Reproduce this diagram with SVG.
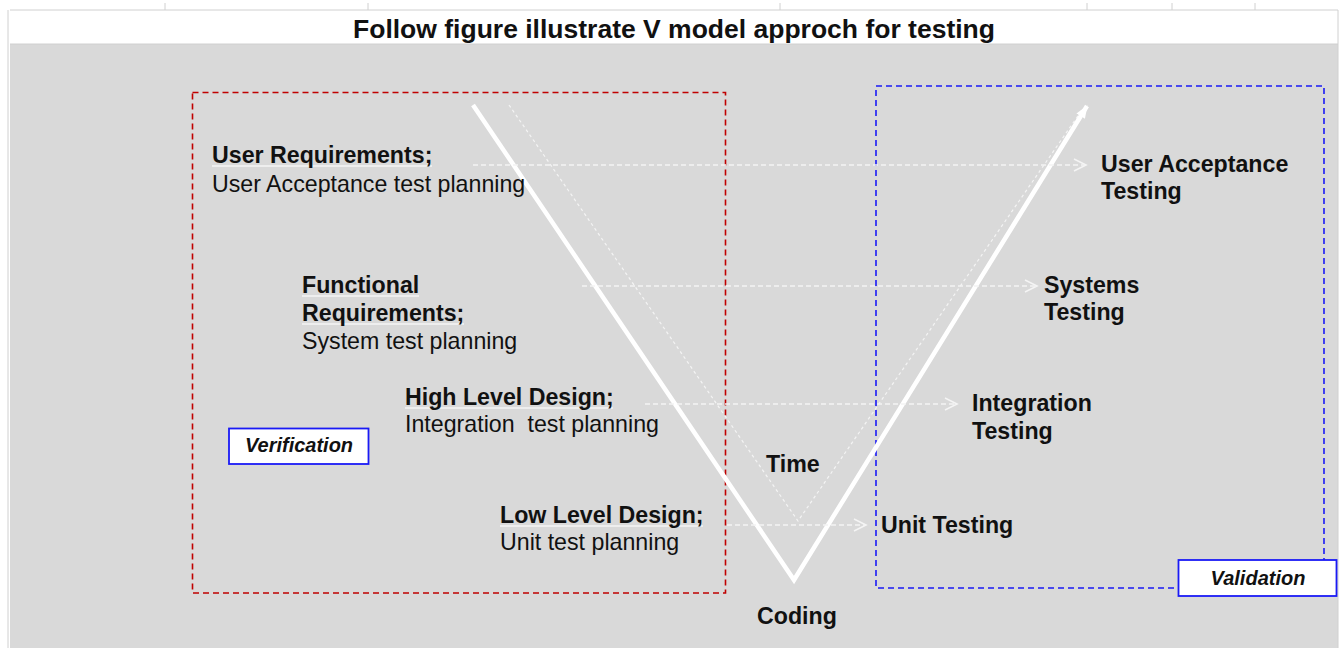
<svg xmlns="http://www.w3.org/2000/svg" width="1343" height="648" viewBox="0 0 1343 648">
<style>
  text { font-family: "Liberation Sans", Arial, sans-serif; fill: #111; }
  .b { font-weight: bold; font-size: 23.2px; }
  .r { font-size: 23.2px; }
  .tag { font-weight: bold; font-style: italic; font-size: 20px; }
  .ul { stroke: #f4f4f4; stroke-width: 1.6; }
  .conn { fill: none; stroke: #f4f4f4; stroke-width: 1.6; stroke-dasharray: 5 3; }
</style>
<defs>
  <marker id="chev" markerUnits="userSpaceOnUse" markerWidth="16" markerHeight="14" refX="13" refY="7" orient="auto">
    <path d="M1,1 L13,7 L1,13" fill="none" stroke="#f4f4f4" stroke-width="1.6"/>
  </marker>
  <marker id="solidhead" markerUnits="userSpaceOnUse" markerWidth="16" markerHeight="14" refX="12" refY="7" orient="auto">
    <path d="M0,2 L13,7 L0,12 Z" fill="#ffffff"/>
  </marker>
</defs>

<!-- canvas -->
<rect x="0" y="0" width="1343" height="648" fill="#ffffff"/>
<rect x="10" y="44" width="1328" height="604" fill="#d9d9d9"/>
<g id="grid" stroke="#d0d0d0" stroke-width="1">
  <line x1="10" y1="10" x2="1338" y2="10"/>
  <line x1="8" y1="10" x2="8" y2="648"/>
  <line x1="1338" y1="10" x2="1338" y2="648"/>
  <line x1="10" y1="44" x2="1338" y2="44"/>
  <line x1="165" y1="3" x2="165" y2="10"/>
  <line x1="368" y1="3" x2="368" y2="10"/>
  <line x1="780" y1="3" x2="780" y2="10"/>
  <line x1="1087" y1="3" x2="1087" y2="10"/>
  <line x1="1172" y1="3" x2="1172" y2="10"/>
  <line x1="1255" y1="3" x2="1255" y2="10"/>
</g>

<g id="title">
  <text x="674" y="38" text-anchor="middle" font-weight="bold" font-size="26.5">Follow figure illustrate V model approch for testing</text>
</g>

<!-- regions -->
<g id="verification-region">
  <rect x="192.5" y="92.5" width="533" height="500.5" fill="none" stroke="#c00000" stroke-width="1.6" stroke-dasharray="6 4"/>
</g>
<g id="validation-region">
  <rect x="876" y="86" width="448" height="502" fill="none" stroke="#1a1af5" stroke-width="1.6" stroke-dasharray="6 4"/>
</g>

<!-- V shape -->
<g id="v-model">
  <polyline points="509,105 798,521 1082,110" fill="none" stroke="#f4f4f4" stroke-width="1.2" stroke-dasharray="3 3"/>
  <polyline points="473,105 794,580 1087,106" fill="none" stroke="#ffffff" stroke-width="4.5" stroke-linejoin="miter" marker-end="url(#solidhead)"/>
</g>

<!-- connectors -->
<g id="connectors">
  <line class="conn" x1="473" y1="165" x2="1086" y2="165" marker-end="url(#chev)"/>
  <line class="conn" x1="582" y1="286" x2="1037" y2="286" marker-end="url(#chev)"/>
  <line class="conn" x1="645" y1="404" x2="957" y2="404" marker-end="url(#chev)"/>
  <line class="conn" x1="727" y1="525" x2="866" y2="525" marker-end="url(#chev)"/>
</g>

<!-- left nodes -->
<g id="node-user-requirements">
  <line class="ul" x1="212" y1="166" x2="432" y2="166"/>
  <text class="b" x="212" y="163">User Requirements;</text>
  <text class="r" x="212" y="192">User Acceptance test planning</text>
</g>
<g id="node-functional-requirements">
  <line class="ul" x1="302" y1="296" x2="419" y2="296"/>
  <line class="ul" x1="302" y1="324" x2="464" y2="324"/>
  <text class="b" x="302" y="293">Functional</text>
  <text class="b" x="302" y="321">Requirements;</text>
  <text class="r" x="302" y="349">System test planning</text>
</g>
<g id="node-high-level-design">
  <line class="ul" x1="405" y1="408" x2="613" y2="408"/>
  <text class="b" x="405" y="405">High Level Design;</text>
  <text class="r" x="405" y="432" xml:space="preserve">Integration  test planning</text>
</g>
<g id="node-low-level-design">
  <line class="ul" x1="500" y1="526" x2="703" y2="526"/>
  <text class="b" x="500" y="523">Low Level Design;</text>
  <text class="r" x="500" y="550">Unit test planning</text>
</g>

<!-- right nodes -->
<g id="node-user-acceptance-testing">
  <text class="b" x="1101" y="172">User Acceptance</text>
  <text class="b" x="1101" y="199">Testing</text>
</g>
<g id="node-systems-testing">
  <text class="b" x="1044" y="293">Systems</text>
  <text class="b" x="1044" y="320">Testing</text>
</g>
<g id="node-integration-testing">
  <text class="b" x="972" y="411">Integration</text>
  <text class="b" x="972" y="439">Testing</text>
</g>
<g id="node-unit-testing">
  <text class="b" x="881" y="533">Unit Testing</text>
</g>

<g id="node-time">
  <text class="b" x="766" y="472">Time</text>
</g>
<g id="node-coding">
  <text class="b" x="757" y="624">Coding</text>
</g>

<!-- tags -->
<g id="tag-verification">
  <rect x="229" y="428.5" width="139.5" height="35.5" fill="#ffffff" stroke="#1a1af5" stroke-width="1.8"/>
  <text class="tag" x="299" y="452" text-anchor="middle">Verification</text>
</g>
<g id="tag-validation">
  <rect x="1178.5" y="560" width="158" height="36" fill="#ffffff" stroke="#1a1af5" stroke-width="1.8"/>
  <text class="tag" x="1258" y="585" text-anchor="middle">Validation</text>
</g>
</svg>
